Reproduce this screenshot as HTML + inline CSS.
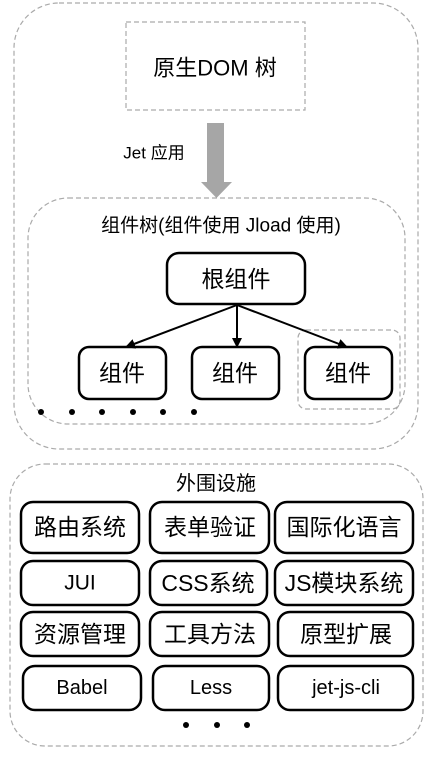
<!DOCTYPE html>
<html><head><meta charset="utf-8"><style>
html,body{margin:0;padding:0;background:#fff;}
svg{display:block;}
text{font-family:"Liberation Sans","Noto Sans CJK SC",sans-serif;fill:#000;text-anchor:middle;dominant-baseline:central;}
</style></head><body>
<svg width="430" height="779" viewBox="0 0 430 779" xmlns="http://www.w3.org/2000/svg">
<defs>
<marker id="ah" markerWidth="10" markerHeight="10" refX="9" refY="5" orient="auto" markerUnits="userSpaceOnUse"><path d="M0,0 L10,5 L0,10 z" fill="#000"/></marker>
</defs>
<g fill="none" stroke="#aaa" stroke-width="1.2" stroke-dasharray="5,3">
<rect x="14" y="3" width="404" height="446" rx="45"/>
<rect x="126" y="22" width="179" height="88"/>
<rect x="28" y="198" width="377" height="226" rx="40"/>
<rect x="298" y="330" width="102" height="79" rx="8"/>
<rect x="10" y="464" width="413" height="282" rx="35"/>
</g>
<text x="215" y="68" font-size="22">原生DOM 树</text>
<rect x="207" y="123" width="17" height="60" fill="#a6a6a6"/>
<path d="M201,182 L232,182 L216.5,198 z" fill="#a6a6a6"/>
<text x="154" y="153" font-size="17">Jet 应用</text>
<text x="221" y="226" font-size="19">组件树(组件使用 Jload 使用)</text>
<g fill="#fff" stroke="#000" stroke-width="2.5">
<rect x="167" y="253" width="138" height="51" rx="12"/>
<rect x="79" y="347" width="87" height="52" rx="10"/>
<rect x="192" y="347" width="87" height="52" rx="10"/>
<rect x="305" y="347" width="87" height="52" rx="10"/>
</g>
<g stroke="#000" stroke-width="2">
<line x1="237" y1="305" x2="126" y2="347" marker-end="url(#ah)"/>
<line x1="237" y1="305" x2="237" y2="347" marker-end="url(#ah)"/>
<line x1="237" y1="305" x2="347" y2="347" marker-end="url(#ah)"/>
</g>
<text x="236" y="279" font-size="23">根组件</text>
<text x="122" y="373" font-size="23">组件</text>
<text x="235" y="373" font-size="23">组件</text>
<text x="348" y="373" font-size="23">组件</text>
<g fill="#000">
<circle cx="41" cy="412" r="3"/><circle cx="72" cy="412" r="3"/><circle cx="102" cy="412" r="3"/><circle cx="133" cy="412" r="3"/><circle cx="163" cy="412" r="3"/><circle cx="194" cy="412" r="3"/>
<circle cx="186" cy="725" r="3"/><circle cx="217" cy="725" r="3"/><circle cx="247" cy="725" r="3"/>
</g>
<text x="216" y="484" font-size="20">外围设施</text>
<g fill="#fff" stroke="#000" stroke-width="2.5">
<rect x="21" y="502" width="118" height="51" rx="12"/>
<rect x="150" y="502" width="119" height="51" rx="12"/>
<rect x="275" y="502" width="138" height="51" rx="12"/>
<rect x="21" y="561" width="118" height="44" rx="12"/>
<rect x="150" y="561" width="117" height="44" rx="12"/>
<rect x="275" y="561" width="138" height="44" rx="12"/>
<rect x="21" y="612" width="118" height="44" rx="12"/>
<rect x="150" y="612" width="119" height="44" rx="12"/>
<rect x="278" y="612" width="135" height="44" rx="12"/>
<rect x="23" y="666" width="118" height="44" rx="12"/>
<rect x="153" y="666" width="116" height="44" rx="12"/>
<rect x="278" y="666" width="135" height="44" rx="12"/>
</g>
<g font-size="23">
<text x="80" y="527">路由系统</text>
<text x="210" y="527">表单验证</text>
<text x="344" y="527">国际化语言</text>
<text x="80" y="583" font-size="21">JUI</text>
<text x="208" y="583">CSS系统</text>
<text x="344" y="583">JS模块系统</text>
<text x="80" y="634">资源管理</text>
<text x="210" y="634">工具方法</text>
<text x="346" y="634">原型扩展</text>
<text x="82" y="688" font-size="20">Babel</text>
<text x="211" y="688" font-size="20">Less</text>
<text x="346" y="688" font-size="20">jet-js-cli</text>
</g>
</svg>
</body></html>
